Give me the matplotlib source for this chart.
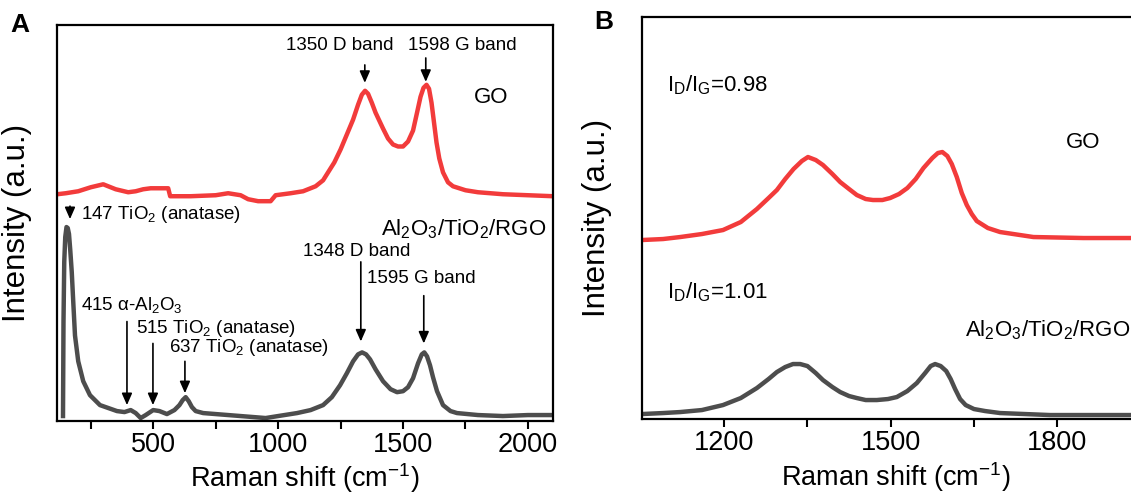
import matplotlib
matplotlib.use("Agg")
import matplotlib.pyplot as plt
from matplotlib.ticker import MultipleLocator

plt.rcParams['font.family'] = ['Liberation Sans', 'DejaVu Sans']
plt.rcParams['mathtext.fontset'] = 'custom'
plt.rcParams['mathtext.rm'] = 'Liberation Sans'
plt.rcParams['mathtext.default'] = 'regular'

RED = '#F23B3B'
GRAY = '#4D4D4D'

# Panel A: GO spectrum (Raman shift, intensity a.u.)
go_a_x = [116, 150, 200, 250, 300, 350, 400, 430, 460, 490, 560, 568, 650,
          750, 800, 850, 880, 920, 970, 990, 1050, 1100, 1150, 1180, 1200,
          1225, 1250, 1275, 1300, 1320, 1335, 1348, 1360, 1375, 1390, 1405,
          1420, 1440, 1460, 1480, 1500, 1520, 1540, 1556, 1570, 1582, 1594,
          1604, 1614, 1624, 1634, 1645, 1660, 1680, 1700, 1750, 1800, 1900,
          2000, 2100]
go_a_y = [228, 229, 231, 235, 238, 233, 230, 231, 233, 234, 234, 226, 226,
          227, 229, 227, 223, 221, 221, 227, 229, 231, 236, 242, 250,
          260, 273, 288, 303, 318, 328, 332, 329, 320, 310, 302,
          294, 284, 278, 276, 276, 281, 292, 310, 326, 335, 338,
          334, 320, 300, 280, 264, 250, 240, 236, 232, 230, 228,
          227, 226]

# Panel A: Al2O3/TiO2/RGO spectrum
rgo_a_x = [139, 141, 144, 148, 153, 158, 163, 168, 174, 180, 187, 200, 220,
           247, 287, 355, 385, 410, 430, 450, 470, 500, 525, 555, 585, 605,
           618, 630, 642, 655, 670, 700, 750, 800, 900, 950, 1000, 1076,
           1130, 1180, 1215, 1248, 1275, 1300, 1320, 1336, 1352, 1368, 1390,
           1420, 1450, 1476, 1500, 1520, 1540, 1560, 1575, 1585, 1596, 1608,
           1620, 1636, 1660, 1690, 1716, 1800, 1900, 2000, 2100]
rgo_a_y = [5, 100, 160, 185, 195, 194, 188, 172, 150, 120, 86, 60, 40,
           26, 16, 10, 9, 11, 8, 3, 6, 11, 10, 7, 11, 16,
           21, 24, 20, 14, 10, 8, 7, 6, 4, 3, 5, 8,
           11, 16, 24, 36, 48, 60, 67, 69, 67, 62, 52,
           40, 32, 29, 30, 34, 43, 58, 67, 69, 65, 56,
           44, 30, 16, 10, 8, 6, 5, 6, 6]

# Panel B: zoomed D/G region
go_b_x = [1052, 1090, 1121, 1160, 1198, 1230, 1259, 1280, 1295, 1310, 1325,
          1340, 1351, 1365, 1378, 1395, 1409, 1425, 1439, 1455, 1468, 1485,
          1499, 1515, 1530, 1545, 1559, 1575, 1585, 1593, 1602, 1610, 1619,
          1628, 1637, 1646, 1655, 1675, 1697, 1757, 1847, 1970]
go_b_y = [179, 180, 182, 185, 189, 197, 210, 221, 229, 240, 250,
          258, 262, 259, 254, 245, 237, 230, 224, 220, 219, 219,
          221, 225, 231, 240, 251, 261, 266, 267, 263, 255, 242,
          226, 214, 205, 198, 191, 187, 182, 181, 181]

rgo_b_x = [1052, 1090, 1121, 1160, 1198, 1230, 1259, 1280, 1295, 1310, 1324,
           1337, 1350, 1365, 1378, 1395, 1409, 1425, 1439, 1455, 1475, 1495,
           1511, 1530, 1547, 1562, 1572, 1580, 1590, 1600, 1608, 1616, 1625,
           1635, 1650, 1670, 1697, 1787, 1970]
rgo_b_y = [5, 6, 7, 9, 14, 21, 31, 40, 47, 52, 55,
           55, 53, 46, 39, 32, 27, 23, 21, 19, 19, 20,
           22, 28, 36, 46, 53, 55, 53, 48, 40, 30, 20,
           14, 10, 8, 6, 4, 4]

fig = plt.figure(figsize=(11.31, 4.93), dpi=100)
ax1 = fig.add_axes([0.0504, 0.146, 0.4385, 0.803])
ax2 = fig.add_axes([0.5676, 0.150, 0.4492, 0.8155])

for ax in (ax1, ax2):
    for sp in ax.spines.values():
        sp.set_linewidth(1.6)
    ax.set_yticks([])
    ax.tick_params(axis='x', which='both', direction='out', length=6,
                   width=1.5, labelsize=19.5, pad=2)
    ax.set_ylabel("Intensity (a.u.)", fontsize=22.5)
    ax.set_xlabel("Raman shift (cm$^{-1}$)", fontsize=19.5)

# ---- Panel A
ax1.plot(go_a_x, go_a_y, color=RED, lw=3.2)
ax1.plot(rgo_a_x, rgo_a_y, color=GRAY, lw=3.2)
ax1.set_xlim(115, 2100)
ax1.set_ylim(0, 398)
ax1.xaxis.set_major_locator(MultipleLocator(500))
ax1.xaxis.set_minor_locator(MultipleLocator(250))
ax1.yaxis.set_label_coords(-0.050, 0.5)
ax1.xaxis.set_label_coords(0.5, -0.101)

arrow = dict(arrowstyle='-|>,head_length=0.5,head_width=0.22', lw=1.2,
             color='k', mutation_scale=14, shrinkA=0, shrinkB=0)


def down_arrow(ax, x, y0, y1):
    ax.annotate('', xy=(x, y1), xytext=(x, y0), arrowprops=arrow)


fs = 13.5
ax1.text(1247, 378, "1350 D band", fontsize=fs, ha='center', va='center')
down_arrow(ax1, 1347, 358, 340)
ax1.text(1739, 378, "1598 G band", fontsize=fs, ha='center', va='center')
down_arrow(ax1, 1591, 365, 341)
ax1.text(1851, 325, "GO", fontsize=16, ha='center', va='center')
ax1.text(210, 208, "147 TiO$_2$ (anatase)", fontsize=fs, va='center')
down_arrow(ax1, 167, 216, 203)
ax1.text(2075, 193, "Al$_2$O$_3$/TiO$_2$/RGO", fontsize=16, ha='right',
         va='center')
ax1.text(1315, 170, "1348 D band", fontsize=fs, ha='center', va='center')
down_arrow(ax1, 1331, 160, 80)
ax1.text(1357, 143, "1595 G band", fontsize=fs, va='center')
down_arrow(ax1, 1583, 126, 78)
ax1.text(212, 117, "415 α-Al$_2$O$_3$", fontsize=fs, va='center')
down_arrow(ax1, 395, 100, 16)
ax1.text(432, 93, "515 TiO$_2$ (anatase)", fontsize=fs, va='center')
down_arrow(ax1, 499, 78, 16)
ax1.text(564, 74, "637 TiO$_2$ (anatase)", fontsize=fs, va='center')
down_arrow(ax1, 627, 60, 28)

# ---- Panel B
ax2.plot(go_b_x, go_b_y, color=RED, lw=3.2)
ax2.plot(rgo_b_x, rgo_b_y, color=GRAY, lw=3.2)
ax2.set_xlim(1052, 1967)
ax2.set_ylim(0, 402)
ax2.xaxis.set_major_locator(MultipleLocator(300))
ax2.xaxis.set_minor_locator(MultipleLocator(150))
ax2.yaxis.set_label_coords(-0.059, 0.5)
ax2.xaxis.set_label_coords(0.5, -0.102)
ax2.text(1097, 334, "I$_D$/I$_G$=0.98", fontsize=16, va='center')
ax2.text(1097, 127, "I$_D$/I$_G$=1.01", fontsize=16, va='center')
ax2.text(1847, 277, "GO", fontsize=16, ha='center', va='center')
ax2.text(1634, 89, "Al$_2$O$_3$/TiO$_2$/RGO", fontsize=16, va='center')

fig.text(20 / 1131, 1 - 25 / 493, "A", fontsize=19, fontweight='bold',
         ha='center', va='center')
fig.text(604 / 1131, 1 - 22 / 493, "B", fontsize=19, fontweight='bold',
         ha='center', va='center')

fig.savefig("out.png", dpi=100)
